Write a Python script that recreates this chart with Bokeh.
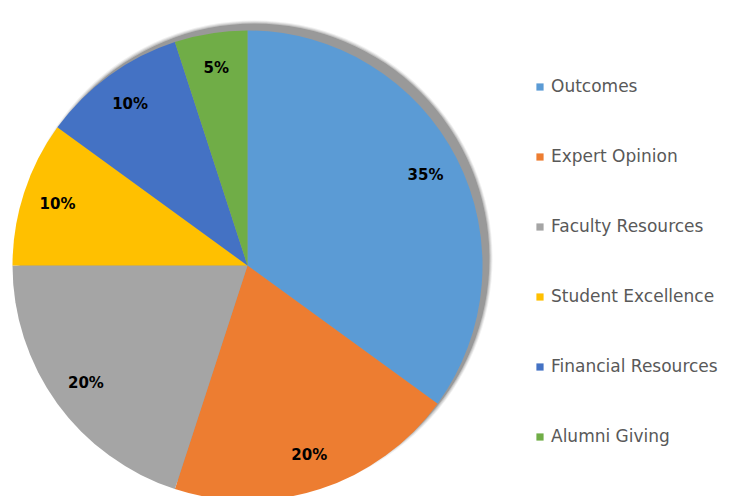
import numpy as np
from bokeh.plotting import figure
from bokeh.models import Range1d, ColumnDataSource, Legend, LegendItem
from bokeh.embed import file_html
from bokeh.resources import INLINE
from bokeh.core.properties import value

categories = ["Outcomes", "Expert Opinion", "Faculty Resources",
              "Student Excellence", "Financial Resources", "Alumni Giving"]
shares = [35, 20, 20, 10, 10, 5]
colors = ["#5B9BD5", "#ED7D31", "#A5A5A5", "#FFC000", "#4472C4", "#70AD47"]
pct_labels = ["35%", "20%", "20%", "10%", "10%", "5%"]

W, H = 730, 496
p = figure(width=W, height=H, output_backend="svg", toolbar_location=None,
           x_range=Range1d(0, W), y_range=Range1d(0, H),
           min_border=0)
p.axis.visible = False
p.grid.visible = False
p.outline_line_color = None
p.background_fill_color = "white"

cx, cy, R = 247, 496 - 265, 235

vals = np.array(shares, dtype=float)
frac = vals / vals.sum()
cum = np.concatenate([[0], np.cumsum(frac)])
start = np.pi / 2 - 2 * np.pi * cum[:-1]
end = np.pi / 2 - 2 * np.pi * cum[1:]
mid = (start + end) / 2
lr = 0.85 * R
src = ColumnDataSource(dict(cat=categories, start=start, end=end, color=colors,
                            lx=cx + lr * np.cos(mid), ly=cy + lr * np.sin(mid),
                            lab=pct_labels))

# shadow
for dr, a in [(3, 0.15), (2, 0.25), (1, 0.4)]:
    p.circle(x=cx + 7, y=cy + 7, radius=R + dr, fill_color="#999999",
             fill_alpha=a, line_color=None)
p.circle(x=cx + 7, y=cy + 7, radius=R, fill_color="#999999", line_color=None)

r = p.wedge(x=cx, y=cy, radius=R, start_angle="start", end_angle="end",
            direction="clock", fill_color="color", line_color=None, source=src)

p.text(x="lx", y="ly", text="lab", source=src, text_align="center",
       text_baseline="middle", text_font=value("DejaVu Sans"),
       text_font_style="bold", text_font_size="15px", text_color="#000000")

items = [LegendItem(label=c, renderers=[r], index=i) for i, c in enumerate(categories)]
legend = Legend(items=items, location=(535, 50), glyph_width=9, glyph_height=9,
                label_text_font="DejaVu Sans", label_text_font_size="17px",
                label_text_color="#595959", spacing=50, label_standoff=7,
                background_fill_alpha=0, border_line_color=None, padding=0,
                margin=0)
p.add_layout(legend, "center")

open("out.html", "w").write(file_html(p, INLINE))
